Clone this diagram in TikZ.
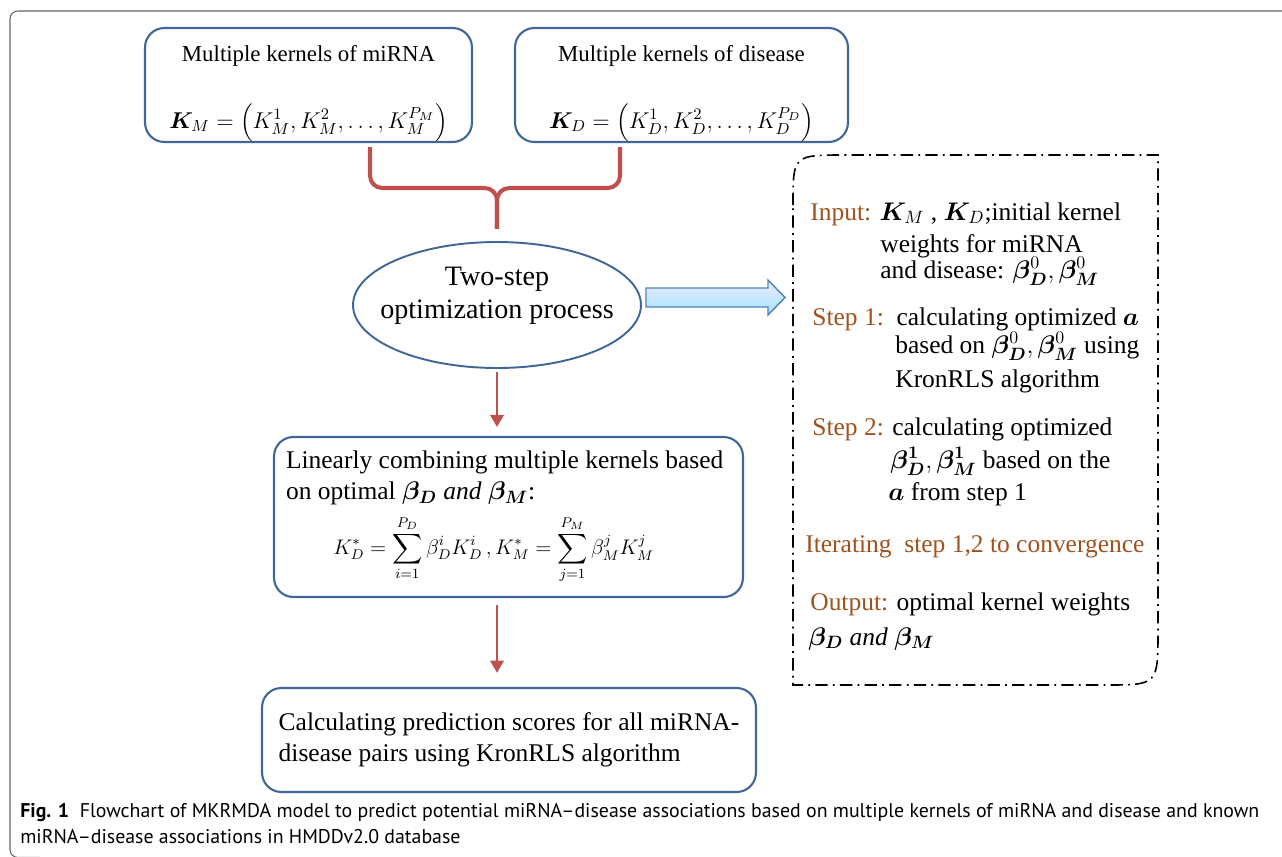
\documentclass[tikz,border=0pt]{standalone}
\usepackage{fix-cm}
\usepackage{amsmath}
\usepackage{bm}
\usepackage{fontspec}
\setmainfont{Liberation Serif}
\newfontfamily\capfont{PT Sans}
\usetikzlibrary{arrows.meta,shapes.geometric}
\definecolor{boxblue}{RGB}{65,103,154}
\definecolor{linkred}{RGB}{192,80,77}
\definecolor{stepbrown}{RGB}{160,82,30}
\definecolor{arrowblue}{RGB}{79,129,189}
\newcommand{\bb}{\boldsymbol{\beta}}

\begin{document}
\begin{tikzpicture}[x=0.02cm, y=-0.02cm,
  kbox/.style={draw=boxblue, line width=1.2pt, rounded corners=11pt, align=center, inner sep=0pt},
  optell/.style={draw=boxblue, line width=1.1pt, ellipse, minimum width=5.76cm, minimum height=2.52cm, inner sep=0pt},
  bracket/.style={draw=linkred, line width=2.3pt, rounded corners=7pt},
  redarrow/.style={draw=linkred, line width=1.7pt, -{Triangle[length=7pt,width=7.5pt]}},
  algtext/.style={anchor=base west, inner sep=0pt, font=\fontsize{14.5}{17}\selectfont},
  captext/.style={anchor=base west, inner sep=0pt, font=\capfont\fontsize{11.3}{13}\selectfont}]

\useasboundingbox (0,0) rectangle (1282,856);
\draw[gray!80!black, line width=0.6pt, rounded corners=4.5pt] (1300,11) -- (10,11) -- (10,857.5) -- (40,857.5);

\node[kbox, minimum width=6.54cm, minimum height=2.28cm, font=\fontsize{13}{15}\selectfont] (mker) at (308.5,85)
  {\rule{0pt}{19pt}Multiple kernels of miRNA\\[20pt]$\bm{K}_M=\left(K_M^1,K_M^2,\dots,K_M^{P_M}\right)$};
\node[kbox, minimum width=6.66cm, minimum height=2.28cm, font=\fontsize{13}{15}\selectfont] (dker) at (681.5,85)
  {\rule{0pt}{19pt}Multiple kernels of disease\\[20pt]$\bm{K}_D=\left(K_D^1,K_D^2,\dots,K_D^{P_D}\right)$};

\node[optell] (opt) at (497,305) {};
\node[align=center, font=\fontsize{16}{18.5}\selectfont] (optlabel) at (497,296) {Two-step\\optimization process};

\coordinate (bl) at (370,147);
\coordinate (br) at (620,147);
\coordinate (bt) at (497,188);
\draw[bracket, shorten >=7pt] (bl) |- (bt) -- (opt.north);
\draw[bracket, shorten >=7pt] (br) |- (bt) -- (opt.north);

\node[kbox, minimum width=9.38cm, minimum height=3.2cm, font=\fontsize{14.5}{18}\selectfont] (lin) at (508.5,517)
  {\begin{minipage}{8.9cm}\raggedright
   Linearly combining multiple kernels based\\
   on optimal $\bb_{\bm D}\ \mathit{and}\ \bb_{\bm M}$:\par\vspace{5pt}
   {\centering\fontsize{12}{14}\selectfont\hspace*{-17pt}%
   $\displaystyle K_D^*=\sum_{i=1}^{P_D}\beta_D^iK_D^i\,,K_M^*=\sum_{j=1}^{P_M}\beta_M^jK_M^j$\par}
   \end{minipage}};

\node[kbox, minimum width=9.88cm, minimum height=2.08cm, align=left, font=\fontsize{14.5}{17.5}\selectfont] (score) at (509,740)
  {Calculating prediction scores for all miRNA-\\disease pairs using KronRLS algorithm};

\draw[redarrow, shorten <=2pt, shorten >=5pt] (opt.south) -- (opt.south |- lin.north);
\draw[redarrow, shorten <=4pt, shorten >=8pt] (opt.south |- lin.south) -- (opt.south |- score.north);

\draw[draw=arrowblue, line width=0.8pt, top color=blue!8, bottom color=blue!30!cyan!35]
  (646,288) -- (768,288) -- (768,280) -- (785,297.5) -- (768,315) -- (768,307) -- (646,307) -- cycle;

\draw[line width=0.9pt, dash pattern=on 7pt off 3pt on 1pt off 3pt]
  (793,205) .. controls (793,155) .. (845,155) -- (1158,155) -- (1158,630)
  .. controls (1158,685) .. (1105,685) -- (793,685) -- cycle;

\node[algtext] (inp) at (810,220) {\textcolor{stepbrown}{Input:} $\bm{K}_M$ , $\bm{K}_D$;initial kernel};
\node[algtext] (inpb) at (880,252) {weights for miRNA};
\node[algtext] (inpc) at (880,278) {and disease: $\bb^0_{\bm D},\bb^0_{\bm M}$};
\node[algtext] (st1) at (812,325) {\textcolor{stepbrown}{Step 1:}\ \ calculating optimized $\bm{a}$};
\node[algtext] (st1b) at (895,353) {based on $\bb^0_{\bm D},\bb^0_{\bm M}$ using};
\node[algtext] (st1c) at (895,387) {KronRLS algorithm};
\node[algtext] (st2) at (812,435) {\textcolor{stepbrown}{Step 2:} calculating optimized};
\node[algtext] (st2b) at (890,468) {$\bm{\beta^1_D},\bm{\beta^1_M}$ based on the};
\node[algtext] (st2c) at (888,500) {$\bm{a}$ from step 1};
\node[algtext] (iter) at (805,552) {\textcolor{stepbrown}{Iterating\ \ step 1,2 to convergence}};
\node[algtext] (outp) at (810,610) {\textcolor{stepbrown}{Output:} optimal kernel weights};
\node[algtext] (outpb) at (808,645) {$\bb_{\bm D}\ \mathit{and}\ \bb_{\bm M}$};

\node[captext] (cap1) at (20,817) {\textbf{Fig. 1}\ \ Flowchart of MKRMDA model to predict potential miRNA–disease associations based on multiple kernels of miRNA and disease and known};
\node[captext] (cap2) at (20,843) {miRNA–disease associations in HMDDv2.0 database};

\end{tikzpicture}
\end{document}
